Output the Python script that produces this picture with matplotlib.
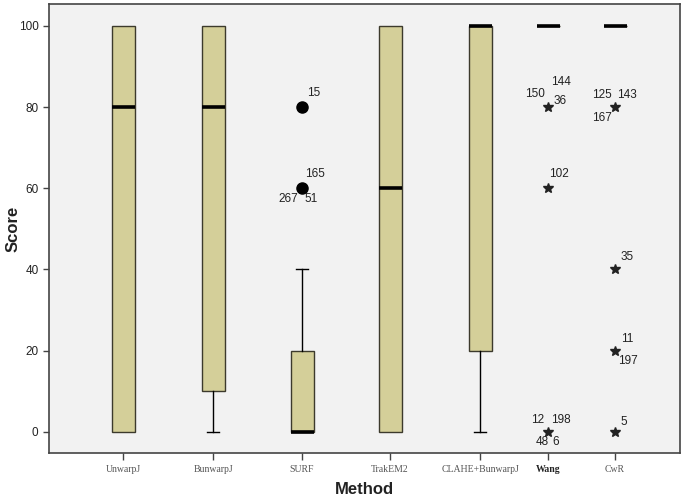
import matplotlib
matplotlib.use('Agg')
import matplotlib.pyplot as plt

# box statistics per method
methods = ['UnwarpJ', 'BunwarpJ', 'SURF', 'TrakEM2', 'CLAHE+BunwarpJ', 'Wang', 'CwR']
q1 = [0, 10, 0, 0, 20, 100, 100]
med = [80, 80, 0, 60, 100, 100, 100]
q3 = [100, 100, 20, 100, 100, 100, 100]
whislo = [0, 0, 0, 0, 0, 100, 100]
whishi = [100, 100, 40, 100, 100, 100, 100]

# outliers (o) and extremes (*), with case numbers
out_method = ['SURF', 'SURF', 'Wang', 'Wang', 'Wang', 'CwR', 'CwR', 'CwR', 'CwR']
out_value = [80, 60, 80, 60, 0, 80, 40, 20, 0]
out_extreme = [False, False, True, True, True, True, True, True, True]
out_cases = [['15'], ['165', '267', '51'], ['144', '150', '36'], ['102'],
             ['12', '198', '48', '6'], ['125', '143', '167'], ['35'], ['11', '197'], ['5']]

# layout: x positions of the categories (axis is 1 unit per pixel)
xpos = [74, 164, 253, 341, 431, 499, 566]
# case label offsets in pixels from the marker
lab_off = {'15': (12, 14), '165': (13, 14), '267': (-14, -11), '51': (9, -11),
           '144': (13, 25), '150': (-13, 13), '36': (12, 6), '102': (11, 14),
           '12': (-10, 12), '198': (13, 12), '48': (-6, -10), '6': (8, -10),
           '125': (-13, 12), '143': (12, 12), '167': (-13, -11), '35': (12, 12),
           '11': (12, 12), '197': (13, -10), '5': (9, 10)}

plt.rcParams['font.family'] = ['Liberation Sans', 'DejaVu Sans']

fig = plt.figure(figsize=(6.85, 5), dpi=100)
ax = fig.add_axes([49 / 685, 47 / 500, 631 / 685, 449 / 500])
ax.set_facecolor('#f2f2f2')

stats = []
for i, m in enumerate(methods):
    stats.append(dict(label=m, q1=q1[i], med=med[i], q3=q3[i],
                      whislo=whislo[i], whishi=whishi[i], fliers=[]))

edge = '#3c3a2c'
bp = ax.bxp(stats, positions=xpos, widths=23, patch_artist=True, showfliers=False,
            boxprops=dict(facecolor='#d4cf99', edgecolor=edge, linewidth=1),
            medianprops=dict(color='black', linewidth=2.6, solid_capstyle='butt'),
            whiskerprops=dict(color='black', linewidth=1),
            capprops=dict(color='black', linewidth=1), capwidths=12)

# hide caps of zero-length whiskers (SPSS draws none)
for i in range(len(methods)):
    if whislo[i] == q1[i]:
        bp['caps'][2 * i].set_visible(False)
    if whishi[i] == q3[i]:
        bp['caps'][2 * i + 1].set_visible(False)

for m, v, ext, cases in zip(out_method, out_value, out_extreme, out_cases):
    x = xpos[methods.index(m)]
    if ext:
        ax.plot(x, v, marker='*', color='#222222', markersize=7, linestyle='none')
    else:
        ax.plot(x, v, marker='o', color='black', markersize=8, linestyle='none')
    for c in cases:
        dx, dy = lab_off[c]
        ax.annotate(c, (x, v), xytext=(dx, dy), textcoords='offset pixels',
                    ha='center', va='center', fontsize=8.5, color='#222222')

ax.set_xlim(0, 631)
ax.set_ylim(-5.25, 105.4)
ax.set_yticks([0, 20, 40, 60, 80, 100])
ax.tick_params(axis='y', labelsize=8.5, labelcolor='#222222', length=4, width=1, color='#444444')
ax.tick_params(axis='x', length=5, width=1, color='#444444', pad=4)
ax.set_xticks(xpos)
ax.set_xticklabels(methods, family='Liberation Serif', fontsize=7, color='#555555')
ax.get_xticklabels()[5].set_fontweight('bold')
ax.get_xticklabels()[5].set_color('#222222')
for s in ax.spines.values():
    s.set_color('#444444')
    s.set_linewidth(1.2)

ax.set_ylabel('Score', fontsize=12, fontweight='bold', color='#222222')
ax.yaxis.set_label_coords(-0.045, 0.5)
ax.set_xlabel('Method', fontsize=12, fontweight='bold', color='#222222')
ax.xaxis.set_label_coords(0.5, -0.064)

fig.savefig('out.png', dpi=100, facecolor='white')
